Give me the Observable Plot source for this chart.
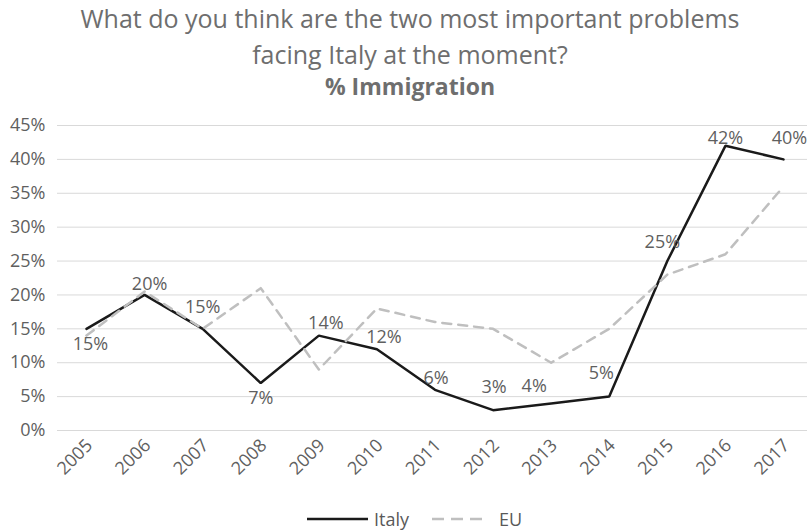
<!DOCTYPE html>
<html><head><meta charset="utf-8">
<script src="https://cdn.jsdelivr.net/npm/d3@7"></script>
<script src="https://cdn.jsdelivr.net/npm/@observablehq/plot@0.6"></script>
<style>
body{margin:0;background:#fff;font-family:"Open Sans",sans-serif;}
#wrap{position:relative;width:807px;height:532px;overflow:hidden;background:#fff;}
.t{position:absolute;left:0;width:820px;text-align:center;color:#6e6e6e;white-space:nowrap;}
#chart{position:absolute;left:0;top:100px;}
#legend{position:absolute;left:307px;top:507px;height:24px;display:flex;align-items:center;color:#595959;font-size:18px;white-space:nowrap;}
#legend svg{display:block;}
</style></head><body>
<div id="wrap">
  <div class="t" style="top:0px;font-size:25px;line-height:36px">What do you think are the two most important problems</div>
  <div class="t" style="top:36px;font-size:25px;line-height:36px">facing Italy at the moment?</div>
  <div class="t" style="top:68px;font-size:23px;line-height:36px;font-weight:bold">% Immigration</div>
  <div id="chart"></div>
  <div id="legend"></div>
</div>
<script>
const years = [2005, 2006, 2007, 2008, 2009, 2010, 2011, 2012, 2013, 2014, 2015, 2016, 2017];
const italy = [15, 20, 15, 7, 14, 12, 6, 3, 4, 5, 25, 42, 40];
const eu = [14, 20.5, 15, 21, 9, 18, 16, 15, 10, 15, 23, 26, 36];
const yTicks = [0, 5, 10, 15, 20, 25, 30, 35, 40, 45];
const seriesNames = ["Italy", "EU"];

const rows = years.map((year, i) => ({year, italy: italy[i], eu: eu[i]}));

// label nudges (style only), dx/dy in pixels relative to each point
const labelNudge = [[4,15],[5,-11],[0,-22],[0,15],[7,-12],[7,-12],[1,-12],[1,-23],[-17,-17],[-8,-23],[-5,-19],[0,-8],[6,-21]];

const textColor = "#5f5f5f";
const fs = 18;

const labelMarks = rows.map((r, i) => Plot.text([r], {
  x: "year", y: "italy", text: d => d.italy + "%",
  dx: labelNudge[i][0], dy: labelNudge[i][1],
  fill: textColor, fontSize: fs, textAnchor: "middle", lineAnchor: "middle"
}));

const chart = Plot.plot({
  width: 807, height: 400,
  marginLeft: 57, marginRight: 0, marginTop: 25, marginBottom: 70,
  style: {fontFamily: "'Open Sans', sans-serif", background: "transparent"},
  x: {type: "linear", domain: [years[0], years[years.length - 1]], range: [86, 783], axis: null},
  y: {domain: [0, 45], axis: null},
  marks: [
    Plot.ruleY(yTicks, {stroke: "#d9d9d9", strokeWidth: 1}),
    Plot.text(yTicks, {y: d => d, frameAnchor: "left", text: d => d + "%", textAnchor: "end", dx: -12, fill: textColor, fontSize: fs}),
    Plot.text(years, {x: d => d, frameAnchor: "bottom", text: d => String(d), rotate: -45, textAnchor: "end", lineAnchor: "middle", dx: 3, dy: 12, fill: textColor, fontSize: fs}),
    Plot.line(rows, {x: "year", y: "italy", stroke: "#1a1a1a", strokeWidth: 2.5, strokeLinejoin: "miter"}),
    Plot.line(rows, {x: "year", y: "eu", stroke: "#bfbfbf", strokeWidth: 2.5, strokeDasharray: "9,7", strokeLinejoin: "round"}),
    ...labelMarks
  ]
});
document.getElementById("chart").appendChild(chart);

const legend = document.getElementById("legend");
legend.innerHTML =
  `<svg width="61" height="6"><line x1="0" x2="61" y1="3" y2="3" stroke="#1a1a1a" stroke-width="2.5"/></svg>` +
  `<span style="margin-left:6px">${seriesNames[0]}</span>` +
  `<svg width="50" height="6" style="margin-left:23px"><line x1="0" x2="50" y1="3" y2="3" stroke="#bfbfbf" stroke-width="2.5" stroke-dasharray="12,7"/></svg>` +
  `<span style="margin-left:17px">${seriesNames[1]}</span>`;
</script>
</body></html>
